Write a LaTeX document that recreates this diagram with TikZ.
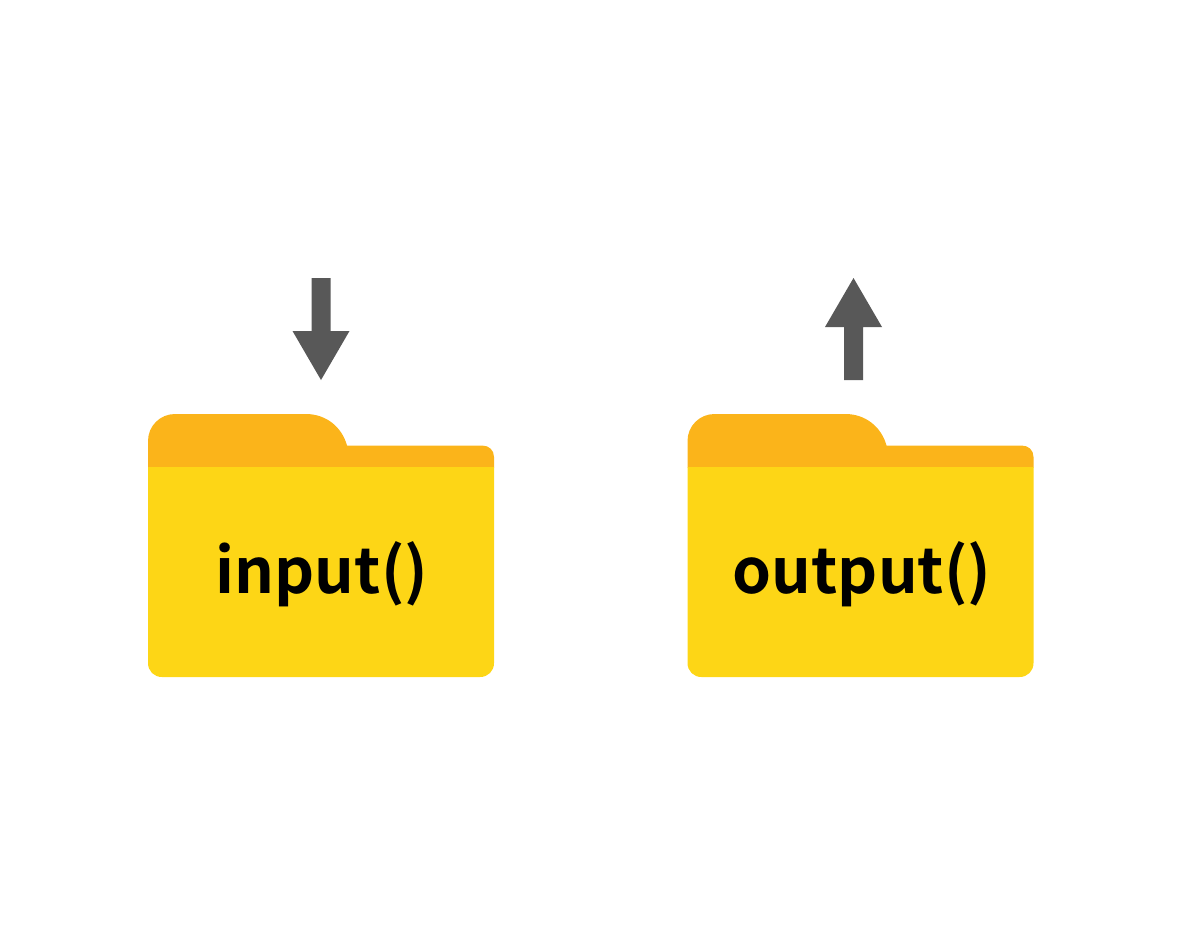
\documentclass[tikz,border=0pt]{standalone}
\usepackage{fontspec}
\setmainfont{Noto Sans CJK KR}[BoldFont={Noto Sans CJK KR Bold}]
\usepackage{tikz}
\definecolor{folderback}{RGB}{251,180,26}
\definecolor{folderfront}{RGB}{253,214,22}
\definecolor{arrowgray}{RGB}{88,88,88}
\begin{document}
\begin{tikzpicture}[x=1pt,y=-1pt,foldertext/.style={font=\fontsize{62.4}{62.4}\bfseries,text=black}]
    \useasboundingbox (0,0) rectangle (1182,946);
    % folders
    \foreach \xpos/\textx/\name in {148/174/input,687.5/174.5/output} {
        \begin{scope}[xshift=\xpos pt]
            \fill [folderback] (0,467) -- (0,441) .. controls (0,426) and (12,414) .. (27,414) -- (158,414) .. controls (178,414) and (194,427) .. (199,445.5) -- (334,445.5) .. controls (341,445.5) and (346,450) .. (346,457) -- (346,467.5) -- (0,467.5) -- cycle;
            \fill [folderfront] (0,467) -- (346,467) -- (346,663) .. controls (346,671) and (340,677) .. (332,677) -- (14,677) .. controls (6,677) and (0,671) .. (0,663) -- cycle;
            \node [foldertext] (\name) at (\textx,574) {\name()};
        \end{scope}
    }
    % arrows
    \fill [arrowgray] (311.5,278) -- (330.5,278) -- (330.5,331) -- (349.5,331) -- (321,380) -- (292.5,331) -- (311.5,331) -- cycle;
    \fill [arrowgray] (844,380) -- (863,380) -- (863,327) -- (882,327) -- (853.5,278) -- (825,327) -- (844,327) -- cycle;
\end{tikzpicture}
\end{document}
